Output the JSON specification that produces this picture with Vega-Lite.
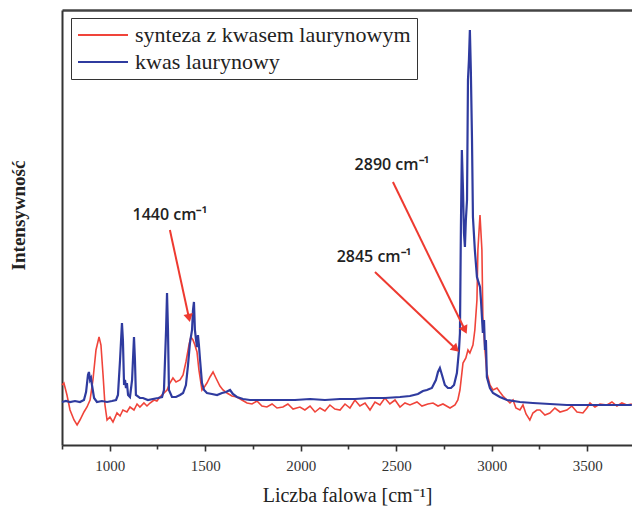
{
  "$schema": "https://vega.github.io/schema/vega-lite/v6.json",
  "autosize": {"type": "none"},
  "padding": {"left": 62, "top": 10, "right": 0, "bottom": 70},
  "width": 570,
  "height": 435,
  "background": "white",
  "config": {
    "view": {"stroke": null},
    "axis": {"grid": false, "domainColor": "#333", "domainWidth": 2, "tickColor": "#333"}
  },
  "datasets": {
    "red": [
      {"x":750,"y":60},{"x":760,"y":62},{"x":776,"y":50},{"x":792,"y":35},{"x":813,"y":25},{"x":829,"y":20},{"x":844,"y":25},{"x":865,"y":33},{"x":881,"y":38},{"x":897,"y":45},{"x":912,"y":65},{"x":928,"y":95},{"x":944,"y":108},{"x":954,"y":100},{"x":965,"y":70},{"x":975,"y":40},{"x":986,"y":25},{"x":1001,"y":28},{"x":1017,"y":23},{"x":1038,"y":32},{"x":1054,"y":29},{"x":1069,"y":35},{"x":1090,"y":33},{"x":1106,"y":38},{"x":1127,"y":35},{"x":1143,"y":41},{"x":1158,"y":38},{"x":1179,"y":42},{"x":1195,"y":39},{"x":1211,"y":42},{"x":1232,"y":45},{"x":1247,"y":44},{"x":1263,"y":48},{"x":1279,"y":51},{"x":1300,"y":55},{"x":1315,"y":62},{"x":1331,"y":67},{"x":1347,"y":63},{"x":1368,"y":65},{"x":1384,"y":70},{"x":1399,"y":83},{"x":1415,"y":100},{"x":1425,"y":108},{"x":1436,"y":105},{"x":1446,"y":100},{"x":1457,"y":93},{"x":1467,"y":75},{"x":1483,"y":55},{"x":1499,"y":59},{"x":1509,"y":62},{"x":1525,"y":68},{"x":1541,"y":73},{"x":1556,"y":67},{"x":1577,"y":59},{"x":1593,"y":55},{"x":1614,"y":52},{"x":1640,"y":49},{"x":1666,"y":48},{"x":1692,"y":45},{"x":1719,"y":42},{"x":1745,"y":41},{"x":1771,"y":44},{"x":1797,"y":39},{"x":1823,"y":38},{"x":1850,"y":41},{"x":1876,"y":37},{"x":1907,"y":38},{"x":1933,"y":41},{"x":1960,"y":36},{"x":1996,"y":38},{"x":2022,"y":35},{"x":2049,"y":39},{"x":2075,"y":33},{"x":2101,"y":37},{"x":2127,"y":34},{"x":2153,"y":40},{"x":2179,"y":36},{"x":2206,"y":35},{"x":2232,"y":41},{"x":2258,"y":37},{"x":2284,"y":45},{"x":2310,"y":39},{"x":2337,"y":42},{"x":2363,"y":35},{"x":2389,"y":43},{"x":2415,"y":40},{"x":2441,"y":47},{"x":2467,"y":41},{"x":2494,"y":45},{"x":2520,"y":38},{"x":2546,"y":42},{"x":2572,"y":40},{"x":2609,"y":43},{"x":2635,"y":39},{"x":2666,"y":41},{"x":2693,"y":42},{"x":2719,"y":39},{"x":2745,"y":41},{"x":2782,"y":37},{"x":2808,"y":40},{"x":2823,"y":45},{"x":2834,"y":55},{"x":2850,"y":82},{"x":2865,"y":87},{"x":2876,"y":95},{"x":2886,"y":92},{"x":2902,"y":100},{"x":2912,"y":115},{"x":2923,"y":145},{"x":2928,"y":195},{"x":2939,"y":230},{"x":2949,"y":195},{"x":2954,"y":128},{"x":2965,"y":95},{"x":2975,"y":72},{"x":2991,"y":60},{"x":3007,"y":55},{"x":3028,"y":57},{"x":3043,"y":53},{"x":3059,"y":49},{"x":3080,"y":45},{"x":3096,"y":42},{"x":3112,"y":45},{"x":3127,"y":37},{"x":3148,"y":35},{"x":3164,"y":40},{"x":3180,"y":31},{"x":3200,"y":25},{"x":3216,"y":32},{"x":3237,"y":35},{"x":3253,"y":35},{"x":3279,"y":30},{"x":3305,"y":32},{"x":3331,"y":37},{"x":3358,"y":33},{"x":3394,"y":35},{"x":3420,"y":39},{"x":3447,"y":33},{"x":3478,"y":32},{"x":3499,"y":37},{"x":3515,"y":42},{"x":3541,"y":38},{"x":3567,"y":41},{"x":3604,"y":40},{"x":3630,"y":43},{"x":3656,"y":39},{"x":3682,"y":42},{"x":3708,"y":40},{"x":3734,"y":41}
    ],
    "blue": [
      {"x":750,"y":43},{"x":771,"y":44},{"x":792,"y":43},{"x":818,"y":44},{"x":844,"y":43},{"x":865,"y":45},{"x":876,"y":53},{"x":886,"y":70},{"x":891,"y":73},{"x":897,"y":65},{"x":902,"y":67},{"x":907,"y":60},{"x":918,"y":47},{"x":933,"y":43},{"x":959,"y":44},{"x":986,"y":43},{"x":1012,"y":44},{"x":1033,"y":45},{"x":1043,"y":50},{"x":1054,"y":85},{"x":1064,"y":122},{"x":1069,"y":105},{"x":1075,"y":60},{"x":1080,"y":65},{"x":1085,"y":57},{"x":1090,"y":62},{"x":1096,"y":50},{"x":1106,"y":48},{"x":1117,"y":65},{"x":1127,"y":108},{"x":1132,"y":85},{"x":1137,"y":50},{"x":1158,"y":47},{"x":1174,"y":47},{"x":1200,"y":45},{"x":1226,"y":46},{"x":1253,"y":47},{"x":1274,"y":48},{"x":1284,"y":55},{"x":1295,"y":115},{"x":1300,"y":152},{"x":1305,"y":115},{"x":1310,"y":55},{"x":1326,"y":48},{"x":1347,"y":48},{"x":1368,"y":50},{"x":1384,"y":52},{"x":1399,"y":60},{"x":1410,"y":80},{"x":1420,"y":102},{"x":1431,"y":115},{"x":1436,"y":135},{"x":1441,"y":143},{"x":1446,"y":115},{"x":1452,"y":105},{"x":1457,"y":98},{"x":1462,"y":110},{"x":1467,"y":100},{"x":1473,"y":85},{"x":1483,"y":62},{"x":1494,"y":55},{"x":1509,"y":52},{"x":1535,"y":51},{"x":1562,"y":50},{"x":1588,"y":52},{"x":1609,"y":53},{"x":1630,"y":55},{"x":1645,"y":51},{"x":1666,"y":48},{"x":1698,"y":46},{"x":1734,"y":45},{"x":1787,"y":45},{"x":1839,"y":45},{"x":1907,"y":45},{"x":1970,"y":45},{"x":2049,"y":46},{"x":2127,"y":45},{"x":2206,"y":46},{"x":2284,"y":46},{"x":2363,"y":47},{"x":2441,"y":47},{"x":2520,"y":48},{"x":2572,"y":49},{"x":2614,"y":51},{"x":2640,"y":54},{"x":2661,"y":55},{"x":2687,"y":57},{"x":2708,"y":65},{"x":2719,"y":73},{"x":2729,"y":77},{"x":2740,"y":70},{"x":2755,"y":60},{"x":2771,"y":57},{"x":2787,"y":57},{"x":2803,"y":60},{"x":2818,"y":72},{"x":2829,"y":95},{"x":2834,"y":112},{"x":2839,"y":218},{"x":2844,"y":295},{"x":2850,"y":255},{"x":2855,"y":212},{"x":2860,"y":198},{"x":2865,"y":225},{"x":2871,"y":245},{"x":2876,"y":365},{"x":2881,"y":385},{"x":2886,"y":415},{"x":2891,"y":375},{"x":2897,"y":307},{"x":2902,"y":228},{"x":2912,"y":195},{"x":2923,"y":168},{"x":2939,"y":158},{"x":2944,"y":145},{"x":2954,"y":112},{"x":2960,"y":125},{"x":2965,"y":95},{"x":2970,"y":105},{"x":2975,"y":68},{"x":2991,"y":57},{"x":3007,"y":52},{"x":3043,"y":48},{"x":3080,"y":45},{"x":3148,"y":43},{"x":3216,"y":42},{"x":3305,"y":41},{"x":3394,"y":40},{"x":3515,"y":40},{"x":3620,"y":40},{"x":3734,"y":40}
    ],
    "arrows": [
      {"a":"a1","x":1315,"y":215},{"a":"a1","x":1415,"y":127},
      {"a":"a2","x":2483,"y":263},{"a":"a2","x":2860,"y":115},
      {"a":"a3","x":2389,"y":173},{"a":"a3","x":2813,"y":96}
    ],
    "labels": [
      {"x":1315,"y":230,"t":"1440 cm⁻¹"},
      {"x":2478,"y":280,"t":"2890 cm⁻¹"},
      {"x":2384,"y":188,"t":"2845 cm⁻¹"}
    ]
  },
  "resolve": {"axis": {"x": "independent"}},
  "layer": [
    {
      "layer": [
        {
          "data": {"name": "red"},
          "mark": {"type": "line", "strokeWidth": 1.6, "interpolate": "linear"},
          "encoding": {
            "x": {"field": "x", "type": "quantitative",
              "scale": {"domain": [750, 3735], "nice": false, "zero": false},
              "axis": {
                "values": [750,1000,1250,1500,1750,2000,2250,2500,2750,3000,3250,3500],
                "labelExpr": "datum.value % 500 === 0 ? datum.label : ''",
                "format": "d",
                "labelOverlap": false,
                "tickSize": {"condition": {"test": "datum.value % 500 === 0", "value": 6}, "value": 4},
                "tickWidth": 1.6,
                "labelFont": "Liberation Serif", "labelFontSize": 15, "labelColor": "#333", "labelPadding": 7,
                "title": "Liczba falowa [cm⁻¹]",
                "titleFont": "Liberation Serif", "titleFontSize": 20, "titleFontWeight": "normal", "titleColor": "#222",
                "titlePadding": 12
              }},
            "y": {"field": "y", "type": "quantitative",
              "scale": {"domain": [0, 435], "nice": false, "zero": false},
              "axis": {"ticks": false, "labels": false, "title": "Intensywność",
                "titleFont": "Liberation Serif", "titleFontSize": 19, "titleFontWeight": "bold", "titleColor": "#222",
                "titleX": -44, "titleY": 205, "titleBaseline": "middle", "titleAngle": -90}},
            "color": {"datum": "synteza z kwasem laurynowym", "type": "nominal",
              "scale": {"domain": ["synteza z kwasem laurynowym", "kwas laurynowy"], "range": ["#f0443a", "#2f3b9f"]},
              "legend": {
                "orient": "none", "legendX": 9, "legendY": 8, "title": null,
                "symbolType": "M-1,0H4", "symbolSize": 400, "symbolStrokeWidth": 2,
                "labelFont": "Liberation Serif", "labelFontSize": 22, "labelColor": "#222", "labelOffset": 36,
                "labelLimit": 400,
                "padding": 6, "rowPadding": 5,
                "strokeColor": "#333", "fillColor": "white"
              }}
          }
        },
        {
          "data": {"name": "blue"},
          "mark": {"type": "line", "strokeWidth": 2.2},
          "encoding": {
            "x": {"field": "x", "type": "quantitative"},
            "y": {"field": "y", "type": "quantitative"},
            "color": {"datum": "kwas laurynowy", "type": "nominal"}
          }
        },
        {
          "data": {"name": "arrows"},
          "mark": {"type": "line", "color": "#ee3a30", "strokeWidth": 2},
          "encoding": {
            "x": {"field": "x", "type": "quantitative"},
            "y": {"field": "y", "type": "quantitative"},
            "detail": {"field": "a"}
          }
        },
        {
          "data": {"name": "arrows"},
          "transform": [{"filter": "datum.a === 'a1' && datum.x === 1415"}],
          "mark": {"type": "point", "shape": "triangle-down", "filled": true, "color": "#ee3a30", "opacity": 1, "size": 90, "angle": 348},
          "encoding": {"x": {"field": "x", "type": "quantitative"}, "y": {"field": "y", "type": "quantitative"}}
        },
        {
          "data": {"name": "arrows"},
          "transform": [{"filter": "datum.a === 'a2' && datum.x === 2860"}],
          "mark": {"type": "point", "shape": "triangle-down", "filled": true, "color": "#ee3a30", "opacity": 1, "size": 90, "angle": 334},
          "encoding": {"x": {"field": "x", "type": "quantitative"}, "y": {"field": "y", "type": "quantitative"}}
        },
        {
          "data": {"name": "arrows"},
          "transform": [{"filter": "datum.a === 'a3' && datum.x === 2813"}],
          "mark": {"type": "point", "shape": "triangle-down", "filled": true, "color": "#ee3a30", "opacity": 1, "size": 90, "angle": 313},
          "encoding": {"x": {"field": "x", "type": "quantitative"}, "y": {"field": "y", "type": "quantitative"}}
        },
        {
          "data": {"name": "labels"},
          "mark": {"type": "text", "font": "Open Sans", "fontSize": 16, "fontWeight": 600, "color": "#222", "align": "center", "baseline": "middle"},
          "encoding": {
            "x": {"field": "x", "type": "quantitative"},
            "y": {"field": "y", "type": "quantitative"},
            "text": {"field": "t"}
          }
        }
      ]
    },
    {
      "data": {"name": "labels"},
      "mark": {"type": "tick", "opacity": 0},
      "encoding": {
        "x": {"field": "x", "type": "quantitative",
          "axis": {"orient": "top", "labels": false, "ticks": false, "title": null, "domainWidth": 2.5, "domainColor": "#444"}}
      }
    }
  ]
}
